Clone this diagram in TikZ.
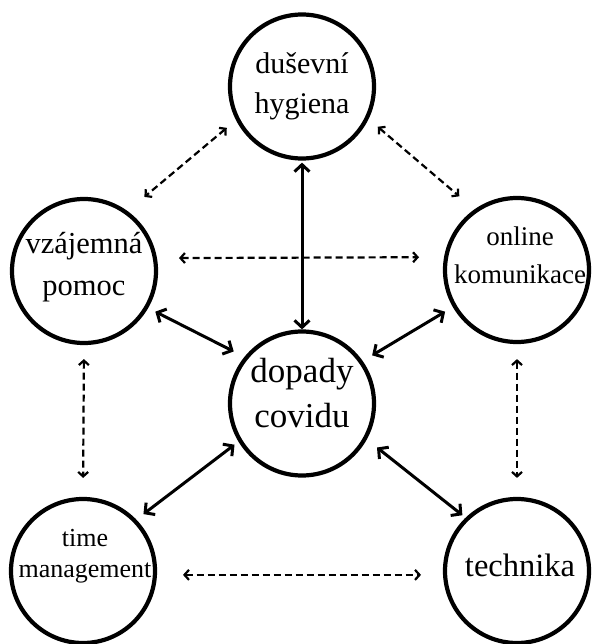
\documentclass[tikz,border=0pt]{standalone}
\usepackage{fontspec}
\setmainfont{Liberation Serif}
\usetikzlibrary{arrows.meta}

\begin{document}
\begin{tikzpicture}[x=1pt, y=-1pt,
		kruh/.style={draw, circle, line width=4.2pt, minimum size=144pt, inner sep=0pt},
		popis/.style={align=center, inner sep=0pt},
		plna/.style={line width=3pt, {Straight Barb[length=7pt,width=15pt]}-{Straight Barb[length=7pt,width=15pt]}},
		carkovana/.style={line width=2.2pt, dash pattern=on 7pt off 4pt, {Straight Barb[length=4.5pt,width=10pt]}-{Straight Barb[length=4.5pt,width=10pt]}}]
				
				\useasboundingbox (0,0) rectangle (592,644);
				%				\draw[red] (0,0) rectangle (592,644);
				\node[kruh] (d) at (302,86.5) {};
				\node[kruh] (v) at (84,271) {};
				\node[kruh] (o) at (517,270) {};
				\node[kruh] (c) at (302,403.5) {};
				\node[kruh] (t) at (83,571) {};
				\node[kruh] (k) at (517,571) {};
				
				\node[popis, font=\fontsize{30}{40}\selectfont] (d-text) at (d) {duševní\\hygiena};
				\node[popis, font=\fontsize{30.5}{42}\selectfont, yshift=4pt] (v-text) at (v) {vzájemná\\pomoc};
				\node[popis, font=\fontsize{27}{38}\selectfont, yshift=15pt, xshift=3pt] (o-text) at (o) {online\\komunikace};
				\node[popis, font=\fontsize{35}{45}\selectfont, yshift=10pt] (c-text) at (c) {dopady\\covidu};
				\node[popis, font=\fontsize{26}{31}\selectfont, yshift=15pt, xshift=2pt] (t-text) at (t) {time\\management};
				\node[popis, font=\fontsize{32.5}{40}\selectfont, yshift=6pt, xshift=3pt] (k-text) at (k) {technika};
				
				\draw[plna, shorten <=2pt] (d.-90) -- (c.90);
				\draw[plna, shorten <=8pt, shorten >=12pt] (v.-30) -- (c.141);
				\draw[plna, shorten <=9pt, shorten >=11pt] (o.210) -- (c.35);
				\draw[plna, shorten <=9pt, shorten >=5pt] (t.44) -- (c.211);
				\draw[plna, shorten <=4pt, shorten >=13pt] (k.134) -- (c.-29);
				
				\draw[carkovana, shorten <=12pt, shorten >=22pt] (d.207) -- (v.54);
				\draw[carkovana, shorten <=12pt, shorten >=20pt] (d.-26) -- (o.125);
				\draw[carkovana, shorten <=22pt, shorten >=25pt] (v.10) -- (o.170);
				\draw[carkovana, shorten <=14pt, shorten >=19pt] (v.-90) -- (t.90);
				\draw[carkovana, shorten <=15pt, shorten >=19pt] (o.-90) -- (k.90);
				\draw[carkovana, shorten <=26pt, shorten >=22pt] (t.-3) -- (k.183);
			\end{tikzpicture}
\end{document}
